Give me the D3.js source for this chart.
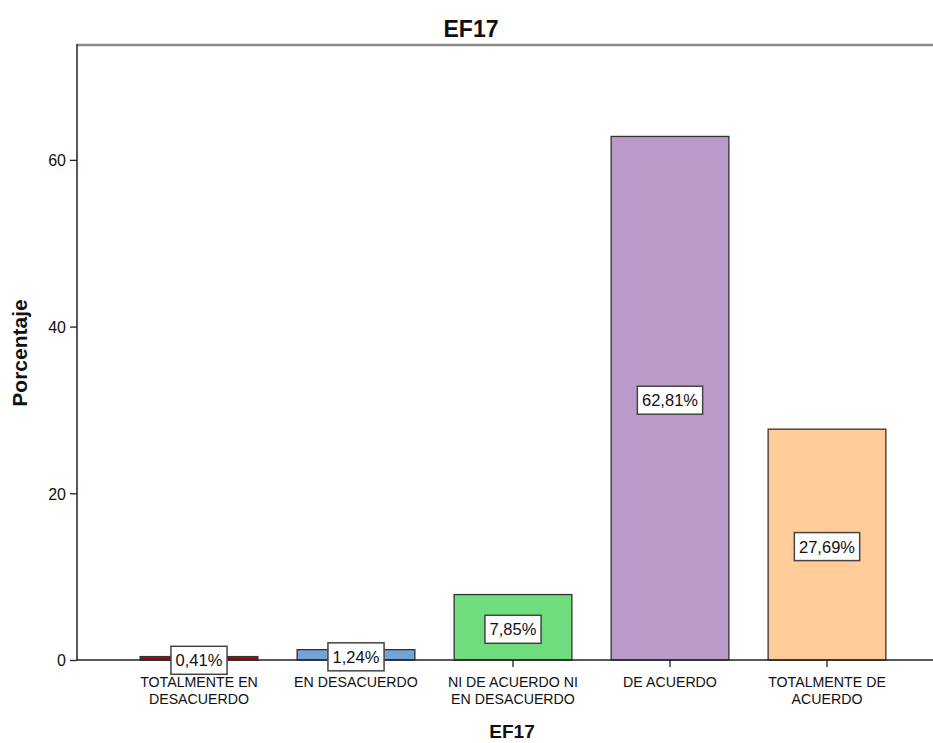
<!DOCTYPE html>
<html>
<head>
<meta charset="utf-8">
<script src="https://cdn.jsdelivr.net/npm/d3@7"></script>
<style>
  html, body { margin: 0; padding: 0; background: #fff; }
  svg { display: block; font-family: "Liberation Sans", Arial, sans-serif; }
</style>
</head>
<body>
<svg id="chart" width="933" height="743"></svg>
<script>
const title = "EF17";
const xTitle = "EF17";
const yTitle = "Porcentaje";
const categories = [
  ["TOTALMENTE EN", "DESACUERDO"],
  ["EN DESACUERDO"],
  ["NI DE ACUERDO NI", "EN DESACUERDO"],
  ["DE ACUERDO"],
  ["TOTALMENTE DE", "ACUERDO"]
];
const values = [0.41, 1.24, 7.85, 62.81, 27.69];
const valueLabels = ["0,41%", "1,24%", "7,85%", "62,81%", "27,69%"];
const colors = ["#9b1010", "#72a4d8", "#6fdc7e", "#b99ac9", "#ffcb98"];
const yTicks = [0, 20, 40, 60];
const yMax = 73.9;

(function () {
const svg = d3.select("#chart");
const pLeft = 77, pTop = 44, pBottom = 660, pRight = 933;

const x = d3.scaleBand()
  .domain(d3.range(values.length))
  .range([120.5, 905.5])
  .paddingInner(0.25)
  .paddingOuter(0.125);
const y = d3.scaleLinear().domain([0, yMax]).range([pBottom, pTop]);

// frame top line
svg.append("line").attr("x1", pLeft).attr("x2", pRight).attr("y1", pTop + 1).attr("y2", pTop + 1)
  .attr("stroke", "#8a8a8a").attr("stroke-width", 2.5);

// bars
svg.selectAll("rect.bar").data(values).join("rect")
  .attr("class", "bar")
  .attr("x", (d, i) => x(i))
  .attr("width", x.bandwidth())
  .attr("y", d => y(d))
  .attr("height", d => pBottom - y(d))
  .attr("fill", (d, i) => colors[i])
  .attr("stroke", "#333")
  .attr("stroke-width", 1.3);

// y axis
const yAxis = d3.axisLeft(y).tickValues(yTicks).tickSize(7).tickPadding(4).tickFormat(d3.format("d"));
const ya = svg.append("g").attr("transform", `translate(${pLeft},0)`).call(yAxis);
ya.select(".domain").remove();
ya.selectAll("line").attr("stroke", "#222").attr("stroke-width", 1.3);
ya.selectAll("text").attr("font-size", 16).attr("fill", "#111").attr("dy", "0.36em");
svg.append("line").attr("x1", pLeft).attr("x2", pLeft).attr("y1", pTop).attr("y2", pBottom)
  .attr("stroke", "#222").attr("stroke-width", 1.5);

// x axis
const xAxis = d3.axisBottom(x).tickSize(7).tickFormat("");
const xa = svg.append("g").attr("transform", `translate(0,${pBottom})`).call(xAxis);
xa.select(".domain").remove();
xa.selectAll("line").attr("stroke", "#222").attr("stroke-width", 1.3);
svg.append("line").attr("x1", pLeft).attr("x2", pRight).attr("y1", pBottom).attr("y2", pBottom)
  .attr("stroke", "#222").attr("stroke-width", 1.5);

// category labels
categories.forEach((lines, i) => {
  const cx = x(i) + x.bandwidth() / 2;
  lines.forEach((ln, j) => {
    svg.append("text")
      .attr("x", cx)
      .attr("y", 687 + j * 16.5)
      .attr("text-anchor", "middle")
      .attr("font-size", 14.2)
      .attr("fill", "#111")
      .text(ln);
  });
});

// value label boxes
values.forEach((v, i) => {
  const cx = x(i) + x.bandwidth() / 2;
  const cy = y(v / 2) + 2;
  const g = svg.append("g");
  const t = g.append("text")
    .attr("x", cx).attr("y", cy)
    .attr("dy", "0.36em")
    .attr("text-anchor", "middle")
    .attr("font-size", 16.5)
    .attr("fill", "#111")
    .text(valueLabels[i]);
  const bb = t.node().getBBox();
  g.insert("rect", "text")
    .attr("x", cx - bb.width / 2 - 4.5)
    .attr("y", cy - 14)
    .attr("width", bb.width + 9)
    .attr("height", 28)
    .attr("fill", "#fff")
    .attr("stroke", "#444")
    .attr("stroke-width", 1.5);
});

// titles
svg.append("text").attr("x", 471).attr("y", 37).attr("text-anchor", "middle")
  .attr("font-size", 23).attr("font-weight", "bold").attr("fill", "#111").text(title);
svg.append("text").attr("x", 512).attr("y", 738).attr("text-anchor", "middle")
  .attr("font-size", 19).attr("font-weight", "bold").attr("fill", "#111").text(xTitle);
svg.append("text").attr("transform", "translate(27,353) rotate(-90)").attr("text-anchor", "middle")
  .attr("font-size", 21).attr("font-weight", "bold").attr("fill", "#111").text(yTitle);
})();
</script>
</body>
</html>
